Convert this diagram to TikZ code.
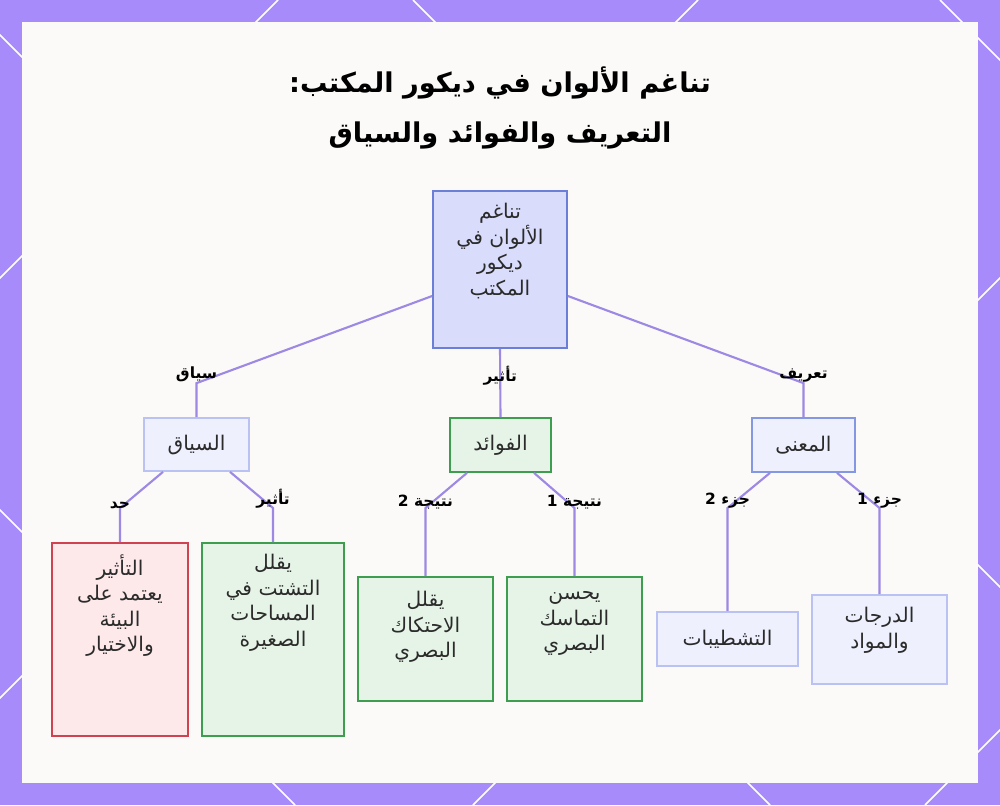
\documentclass[tikz,border=0pt]{standalone}
\usepackage{fontspec}
\usetikzlibrary{positioning,calc}
\newfontfamily\arabicfont[Script=Arabic]{DejaVu Sans}
\TeXXeTstate=1

\definecolor{frameviolet}{HTML}{A78BFA}
\definecolor{panelwhite}{HTML}{FBFAF9}
\definecolor{edgeviolet}{HTML}{9D88E3}
\definecolor{rootfill}{HTML}{D9DCFB}
\definecolor{rootline}{HTML}{6C7FD8}
\definecolor{bluefill}{HTML}{EEF0FD}
\definecolor{blueline}{HTML}{B9C2F2}
\definecolor{midline}{HTML}{8497E3}
\definecolor{greenfill}{HTML}{E6F4E7}
\definecolor{greenline}{HTML}{3E9E4F}
\definecolor{redfill}{HTML}{FDE8EA}
\definecolor{redline}{HTML}{D0424F}
\definecolor{inktext}{HTML}{2B2B2B}

\tikzset{
  box/.style={rectangle, line width=1pt, inner sep=0pt, text=inktext,
    font=\arabicfont\fontsize{11.5}{14.5}\selectfont},
  rootbox/.style={box, fill=rootfill, draw=rootline},
  lightbox/.style={box, fill=bluefill, draw=blueline},
  midbox/.style={box, fill=bluefill, draw=midline},
  greenbox/.style={box, fill=greenfill, draw=greenline},
  redbox/.style={box, fill=redfill, draw=redline},
  boxtxt/.style={anchor=north, align=center, inner sep=0pt, text=inktext,
    font=\arabicfont\fontsize{11.5}{14.5}\selectfont},
  edge/.style={draw=edgeviolet, line width=1.2pt},
  lbl/.style={font=\arabicfont\bfseries\fontsize{8.8}{11}\selectfont, text=black, inner sep=1pt},
  titletxt/.style={align=center, text=black, font=\arabicfont\bfseries\fontsize{15.5}{28.5}\selectfont}
}

\begin{document}
\begin{tikzpicture}[x=0.02cm, y=-0.02cm]
  \useasboundingbox (0,0) rectangle (1000,805);
  % frame with the white lattice
  \fill[frameviolet] (0,0) rectangle (1000,805);
  \begin{scope}
    \clip (0,0) rectangle (1000,805);
    \foreach \c in {-35,413,-510,940} {
      \draw[white, line width=0.9pt] (\c,0) -- ++(805,805);
    }
    \foreach \c in {278,698,1278,1730} {
      \draw[white, line width=0.9pt] (\c,0) -- ++(-805,805);
    }
  \end{scope}
  \fill[panelwhite] (22,22) rectangle (978,783);

  % title
  \node[titletxt] (title) at (500,108) {\beginR تناغم الألوان في ديكور المكتب:\endR\\\beginR التعريف والفوائد والسياق\endR};

  % boxes
  \node[rootbox, minimum width=2.68cm, minimum height=3.14cm,
    label={[boxtxt, yshift=-0.26cm]north:{\beginR تناغم\endR\\\beginR الألوان في\endR\\\beginR ديكور\endR\\\beginR المكتب\endR}}] (root) at (500,269.5) {};

  \node[lightbox, minimum width=2.1cm, minimum height=1.06cm] (ctx) at (196.5,444.5) {\beginR السياق\endR};
  \node[greenbox, minimum width=2.02cm, minimum height=1.08cm] (ben) at (500.5,445) {\beginR الفوائد\endR};
  \node[midbox, minimum width=2.06cm, minimum height=1.08cm] (mean) at (803.5,445) {\beginR المعنى\endR};

  \node[redbox, minimum width=2.72cm, minimum height=3.86cm,
    label={[boxtxt, yshift=-0.24cm]north:{\beginR التأثير\endR\\\beginR يعتمد على\endR\\\beginR البيئة\endR\\\beginR والاختيار\endR}}] (lim) at (120,639.5) {};
  \node[greenbox, minimum width=2.84cm, minimum height=3.86cm,
    label={[boxtxt, yshift=-0.24cm]north:{\beginR يقلل\endR\\\beginR التشتت في\endR\\\beginR المساحات\endR\\\beginR الصغيرة\endR}}] (scat) at (273,639.5) {};
  \node[greenbox, minimum width=2.7cm, minimum height=2.48cm,
    label={[boxtxt, yshift=-0.3cm]north:{\beginR يقلل\endR\\\beginR الاحتكاك\endR\\\beginR البصري\endR}}] (fric) at (425.5,639) {};
  \node[greenbox, minimum width=2.7cm, minimum height=2.48cm,
    label={[boxtxt, yshift=-0.3cm]north:{\beginR يحسن\endR\\\beginR التماسك\endR\\\beginR البصري\endR}}] (coh) at (574.5,639) {};
  \node[lightbox, minimum width=2.82cm, minimum height=1.08cm] (fin) at (727.5,639) {\beginR التشطيبات\endR};
  \node[lightbox, minimum width=2.7cm, minimum height=1.78cm,
    label={[boxtxt, yshift=-0.26cm]north:{\beginR الدرجات\endR\\\beginR والمواد\endR}}] (shade) at (879.5,639.5) {};

  % connectors
  \draw[edge] ([yshift=-0.53cm]root.west) -- ([yshift=0.68cm]ctx.north) node[lbl, above=-1pt] (lSiyaq) {\beginR سياق\endR} -- (ctx.north);
  \draw[edge] (root.south) -- node[lbl, pos=0.4] (lTathir) {\beginR تأثير\endR} (ben.north);
  \draw[edge] ([yshift=-0.53cm]root.east) -- ([yshift=0.68cm]mean.north) node[lbl, above=-1pt] (lTarif) {\beginR تعريف\endR} -- (mean.north);

  \draw[edge] ([xshift=-0.67cm]ctx.south) -- (lim.north |- 0,508) node[lbl, above=-2pt] (lHad) {\beginR حد\endR} -- (lim.north);
  \draw[edge] ([xshift=0.67cm]ctx.south) -- (scat.north |- 0,508) node[lbl, above=-2pt] (lTathirB) {\beginR تأثير\endR} -- (scat.north);
  \draw[edge] ([xshift=-0.67cm]ben.south) -- (fric.north |- 0,508) node[lbl, above=-2pt] (lNatB) {\beginR نتيجة 2\endR} -- (fric.north);
  \draw[edge] ([xshift=0.67cm]ben.south) -- (coh.north |- 0,508) node[lbl, above=-2pt] (lNatA) {\beginR نتيجة 1\endR} -- (coh.north);
  \draw[edge] ([xshift=-0.67cm]mean.south) -- (fin.north |- 0,508) node[lbl, above=-2pt] (lJuzB) {\beginR جزء 2\endR} -- (fin.north);
  \draw[edge] ([xshift=0.67cm]mean.south) -- (shade.north |- 0,508) node[lbl, above=-2pt] (lJuzA) {\beginR جزء 1\endR} -- (shade.north);
\end{tikzpicture}
\end{document}
